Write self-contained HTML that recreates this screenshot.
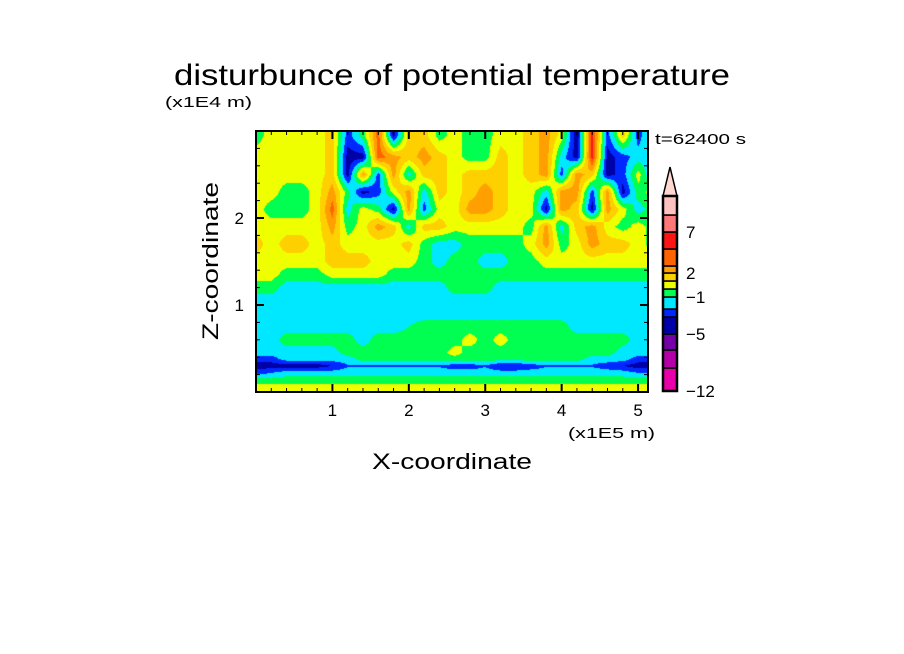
<!DOCTYPE html>
<html><head><meta charset="utf-8"><style>
html,body{margin:0;padding:0;background:#fff;}
#wrap{position:relative;width:904px;height:654px;overflow:hidden;}
svg,canvas{position:absolute;left:0;top:0;}
text{font-family:"Liberation Sans",sans-serif;fill:#000;}
</style></head><body>
<div id="wrap">
<canvas id="cv" width="904" height="654"></canvas>
<svg id="sv" width="904" height="654">
<text x="174" y="85" font-size="30" textLength="556" lengthAdjust="spacingAndGlyphs">disturbunce of potential temperature</text>
<text x="165" y="107" font-size="15" textLength="87" lengthAdjust="spacingAndGlyphs">(x1E4 m)</text>
<text x="568" y="438" font-size="15" textLength="87" lengthAdjust="spacingAndGlyphs">(x1E5 m)</text>
<text x="372" y="469" font-size="22" textLength="160" lengthAdjust="spacingAndGlyphs">X-coordinate</text>
<text transform="translate(218,340) rotate(-90)" font-size="22" textLength="158" lengthAdjust="spacingAndGlyphs">Z-coordinate</text>
<text x="655" y="144" font-size="15" textLength="91" lengthAdjust="spacingAndGlyphs">t=62400 s</text>
<g id="axes"></g>
<g id="cbar"></g>
</svg>
</div>
<script>
// field grid: x columns (1e5 m), z rows (1e4 m), values are contour class indices
const xCols = [0,0.2,0.4,0.6,0.8,1.0,1.2,1.4,1.6,1.8,2.0,2.2,2.4,2.6,2.8,3.0,3.2,3.4,3.6,3.8,4.0,4.2,4.4,4.6,4.8,5.0,5.2];
const zRows = [0,0.05,0.14,0.22,0.3,0.38,0.45,0.6,0.75,0.9,1.05,1.2,1.35,1.5,1.7,1.9,2.1,2.3,2.5,2.7,2.95,3.0];
const r000 = [7,7,7,7,7,7,7,7,7,7,7,7,7,7,7,7,7,7,7,7,7,7,7,7,7,7,7];
const r005 = [7,7,7,7,7,7,7,7,7,7,7,7,7,7,7,7,7,7,7,7,7,7,7,7,7,7,7];
const r014 = [6,6,6,6,6,6,6,6,6,6,6,6,6,6,6,6,6,6,6,6,6,6,6,6,6,6,6];
const r022 = [4,4.5,5,5,5,5,5,5,5,5,5,5,5,5,5,5,5,5,5,5,5,5,5,5,5,4.5,4.5];
const r030 = [3,3,3,3,3,3.5,4.4,4.4,4.4,4.4,4.4,4.4,4.4,4,4,4.4,3.5,3.5,4,4.4,4.4,4.4,4.4,4,3.5,3,3];
const r038 = [4,4,5,5,5,5,5,6,6,6,6,6,6,6,6,6,6,6,6,6,6,6,5,5,5,4,4];
const r045 = [5,5,5,5,5,5,6,6,6,6,6,6,6,7,6,6,6,6,6,6,6,6,6,6,5,5,5];
const r060 = [5,5,6,6,6,6,6,5,6,6,6,6,6,6,7,6,7,6,6,6,6,6,6,6,6,5,5];
const r075 = [5,5,5,5,5,5,5,5,5,5,5.5,6,6,6,6,6,6,6,6,6,6,5,5,5,5,5,5];
const r090 = [5,5,5,5,5,5,5,5,5,5,5,5,5,5,5,5,5,5,5,5,5,5,5,5,5,5,5];
const r105 = [5,5,5,5,5,5,5,5,5,5,5,5,5,5,5,5,5,5,5,5,5,5,5,5,5,5,5];
const r120 = [6,6,5,5,5,5,5,5,5,5,5,5,5,6,6,6,5,5,5,5,5,5,5,5,5,5,5];
const r135 = [7,7,6,6,6,7,7,7,7,6,6,6,6,6,6,6,6,6,6,6,6,6,6,6,6,6,6];
const r150 = [7,7,7,7,7,8,8,8,7,7,7,6,5,6,6,5,5,6,6,7,7,7,7,7,7,7,7];
const r170 = [8,7,8,8,7,8,7,7,7,7,8,6,5,5,6,6,6,6,7,9,6,7,9,8,8,7,6];
const r190 = [7,7,7,7,7,9,6,7,9,8,5,8,8,7,7,7,7,7,6,9,5,8,9,7,6,7,6];
const r210 = [7,6,6,6,7,10,5,7,6,3,9,4,7,7,9,9,8,7,7,3,9,8,3,9,7,5,6];
const r230 = [7,7,6,6,7,9,6,3,4,7,9,5,8,7,8,9,8,7,7,5,9,9,4,9,3,6,7];
const r250 = [7,7,7,7,7,8,3,9,4,9,5,8,8,7,8,8,8,7,8,9,4,9,8,3,4,7,4];
const r270 = [7,7,7,7,7,8,3,3,10,9,8,9,8,7,6,6,8,7,8,9,5,3,11,3,4,5,5];
const r295 = [6,7,7,7,7,8,4,6,10,3,8,8,6,7,6,6,7,7,8,9,7,2.6,11,4,8,4,6];
const r300 = [6,7,7,7,7,8,4,6,10,3,8,8,6,7,6,6,7,7,8,9,7,2.6,11,4,8,4,6];
const fieldRows = [r000,r005,r014,r022,r030,r038,r045,r060,r075,r090,r105,r120,r135,r150,r170,r190,r210,r230,r250,r270,r295,r300];
const palette = ['#e800a8','#b400a8','#7400a8','#0000a8','#0028ff','#00e8ff','#00ff50','#f0ff00','#ffd000','#ffa000','#ff6400','#ff1414','#ff7878','#ffc0c0','#ffd8d0'];
const cbLabels = ['-12','-5','-1','2','7'];
const cbLabelPos = [0,3,6,9,12]; // boundary index under each label
const xTicks = [1,2,3,4,5];
const zTicks = [1,2];

// axis functions
const PX0=256, PX1=648, PY0=131, PY1=392;
const XMIN=0, XMAX=5.13, ZMIN=0, ZMAX=3.0;
const sx = v => PX0 + (v-XMIN)/(XMAX-XMIN)*(PX1-PX0);
const sz = v => PY1 - (v-ZMIN)/(ZMAX-ZMIN)*(PY1-PY0);
const ix = p => XMIN + (p-PX0)/(PX1-PX0)*(XMAX-XMIN);
const iz = p => ZMIN + (PY1-p)/(PY1-PY0)*(ZMAX-ZMIN);

function findIdx(arr,v){let i=0;while(i<arr.length-2&&arr[i+1]<v)i++;return i;}
function sample(x,z){
  const i=findIdx(xCols,x), j=findIdx(zRows,z);
  let tx=(x-xCols[i])/(xCols[i+1]-xCols[i]); tx=Math.max(0,Math.min(1,tx));
  let tz=(z-zRows[j])/(zRows[j+1]-zRows[j]); tz=Math.max(0,Math.min(1,tz));
  const a=fieldRows[j][i],b=fieldRows[j][i+1],c=fieldRows[j+1][i],d=fieldRows[j+1][i+1];
  return (a*(1-tx)+b*tx)*(1-tz)+(c*(1-tx)+d*tx)*tz;
}
const cv=document.getElementById('cv'), ctx=cv.getContext('2d');
const img=ctx.createImageData(PX1-PX0, PY1-PY0);
const rgb=palette.map(h=>[parseInt(h.substr(1,2),16),parseInt(h.substr(3,2),16),parseInt(h.substr(5,2),16)]);
for(let py=PY0;py<PY1;py++){for(let px=PX0;px<PX1;px++){
  const v=sample(ix(px+0.5),iz(py+0.5));
  let k=Math.floor(v+0.5);k=Math.max(0,Math.min(palette.length-1,k));
  const o=((py-PY0)*(PX1-PX0)+(px-PX0))*4;
  img.data[o]=rgb[k][0];img.data[o+1]=rgb[k][1];img.data[o+2]=rgb[k][2];img.data[o+3]=255;
}}
ctx.putImageData(img,PX0,PY0);

const NS='http://www.w3.org/2000/svg';
function mk(tag,attrs,parent){const e=document.createElementNS(NS,tag);for(const k in attrs)e.setAttribute(k,attrs[k]);parent.appendChild(e);return e;}
const axes=document.getElementById('axes');
const frame=mk('rect',{x:PX0,y:PY0,width:PX1-PX0,height:PY1-PY0,fill:'none',stroke:'#000','stroke-width':2},axes);


for(let v=0.2;v<XMAX;v+=0.2){const X=sx(v);const major=Math.abs(v-Math.round(v))<0.01;const L=major?8:4;
  const t1=mk('line',{x1:X,y1:PY1,x2:X,y2:PY1-L,stroke:'#000','stroke-width':major?2:1},axes);
  
  
  const t2=mk('line',{x1:X,y1:PY0,x2:X,y2:PY0+L,stroke:'#000','stroke-width':major?2:1},axes);
  
  }
for(let v=0.2;v<ZMAX-0.01;v+=0.2){const Y=sz(v);const major=Math.abs(v-Math.round(v))<0.01;const L=major?8:4;
  const t1=mk('line',{x1:PX0,y1:Y,x2:PX0+L,y2:Y,stroke:'#000','stroke-width':major?2:1},axes);
  
  
  const t2=mk('line',{x1:PX1,y1:Y,x2:PX1-L,y2:Y,stroke:'#000','stroke-width':major?2:1},axes);
  
  }
xTicks.forEach(v=>{const t=mk('text',{x:sx(v),y:PY1+24,'font-size':17,'text-anchor':'middle'},axes);t.textContent=v;
  
  });
zTicks.forEach(v=>{const t=mk('text',{x:PX0-12,y:sz(v)+6,'font-size':17,'text-anchor':'end'},axes);t.textContent=v;
  
  });

// colorbar
const cb=document.getElementById('cbar');
const segB=[391,368,350,334,317,309,297,289,281,273,266,249,232,215,196];
const CX0=663,CX1=677;
for(let k=0;k<14;k++){const r=mk('rect',{x:CX0,y:segB[k+1],width:CX1-CX0,height:segB[k]-segB[k+1],fill:palette[k],stroke:'#000','stroke-width':1.5},cb);
  
  }
const tri=mk('polygon',{points:CX0+','+segB[14]+' '+CX1+','+segB[14]+' '+((CX0+CX1)/2)+',167',fill:palette[14],stroke:'#000','stroke-width':1.5},cb);


const cbo=mk('rect',{x:CX0,y:segB[14],width:CX1-CX0,height:segB[0]-segB[14],fill:'none',stroke:'#000','stroke-width':2.5},cb);


cbLabels.forEach((s,i)=>{const t=mk('text',{x:686,y:segB[cbLabelPos[i]]+6,'font-size':17},cb);t.textContent=s.replace('-','\u2212');
  
  });
</script>
</body></html>
